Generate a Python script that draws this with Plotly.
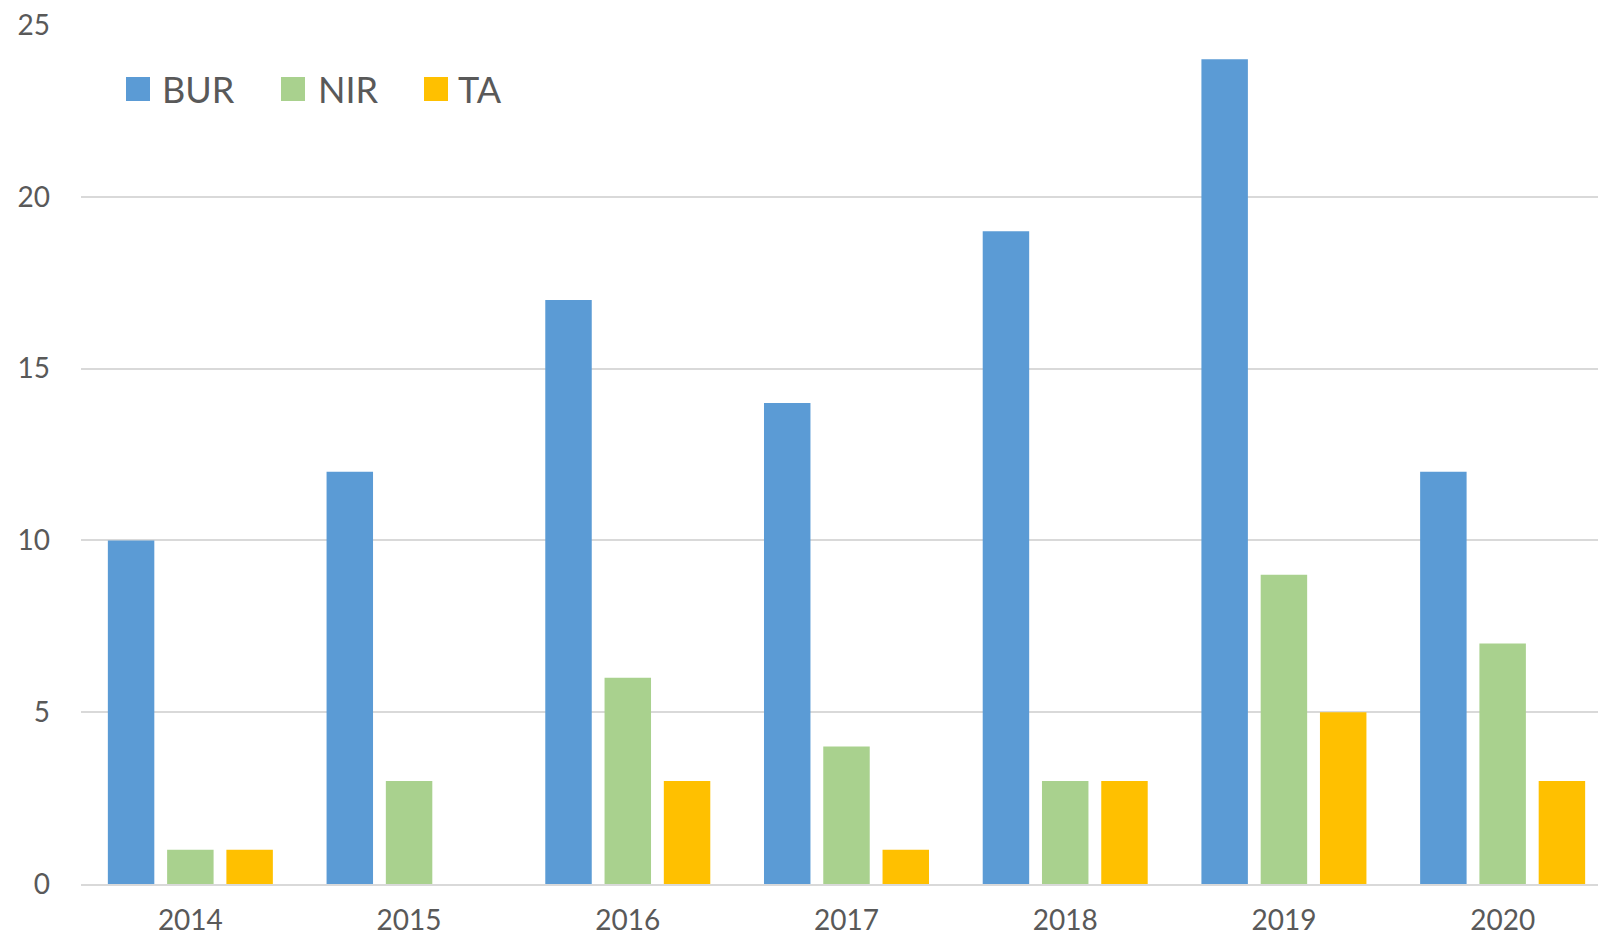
import plotly.graph_objects as go

# Data
years = ["2014", "2015", "2016", "2017", "2018", "2019", "2020"]
bur = [10, 12, 17, 14, 19, 24, 12]
nir = [1, 3, 6, 4, 3, 9, 7]
ta = [1, 0, 3, 1, 3, 5, 3]

series = [
    ("BUR", bur, "#5B9BD5"),
    ("NIR", nir, "#A9D18E"),
    ("TA", ta, "#FFC000"),
]

W, H = 1598, 940
M_L, M_R, M_T, M_B = 81, 0, 25, 56


# helpers to turn page pixels into paper fractions (for the hand-drawn legend)
def px_x(x):
    return (x - M_L) / (W - M_L - M_R)


def px_y(y):
    return (H - M_B - y) / (H - M_T - M_B)


fig = go.Figure()
for name, values, color in series:
    fig.add_trace(go.Bar(x=years, y=values, name=name, marker_color=color,
                         marker_line_width=0, showlegend=False))

# legend drawn as squares + labels so the swatches match the reference size
legend_pos = [(126, 162), (281, 318), (424, 458)]
for (name, _, color), (sx, tx) in zip(series, legend_pos):
    fig.add_shape(type="rect", xref="paper", yref="paper",
                  x0=px_x(sx), x1=px_x(sx + 24), y0=px_y(101), y1=px_y(77),
                  fillcolor=color, line_width=0)
    fig.add_annotation(x=px_x(tx - 2), y=px_y(89), xref="paper", yref="paper",
                       text=name, showarrow=False, xanchor="left", yanchor="middle",
                       font=dict(size=36, color="#595959"))

fig.update_layout(
    width=W,
    height=H,
    barmode="group",
    bargap=0.187,
    bargroupgap=0.216,
    paper_bgcolor="white",
    plot_bgcolor="white",
    font=dict(family="Lato, Open Sans, sans-serif", color="#595959", size=28),
    margin=dict(l=M_L, r=M_R, t=M_T, b=M_B, autoexpand=False),
    xaxis=dict(
        automargin=False,
        # the last category runs a little past the right edge in the reference
        range=[-0.5, 6.436],
        showgrid=False,
        showline=True,
        linecolor="#D9D9D9",
        linewidth=2,
        ticks="",
        ticklabelstandoff=10,
        tickfont=dict(size=28),
    ),
    yaxis=dict(
        automargin=False,
        range=[0, 25],
        dtick=5,
        showgrid=True,
        gridcolor="#D9D9D9",
        gridwidth=1.5,
        zeroline=False,
        showline=False,
        ticks="",
        ticklabelstandoff=30,
        tickfont=dict(size=28),
    ),
)

# drop the browser's default body margin so the figure sits at the page corner
fig.write_html("out.html", config={"displayModeBar": False},
               post_script="document.body.style.margin = '0';")
